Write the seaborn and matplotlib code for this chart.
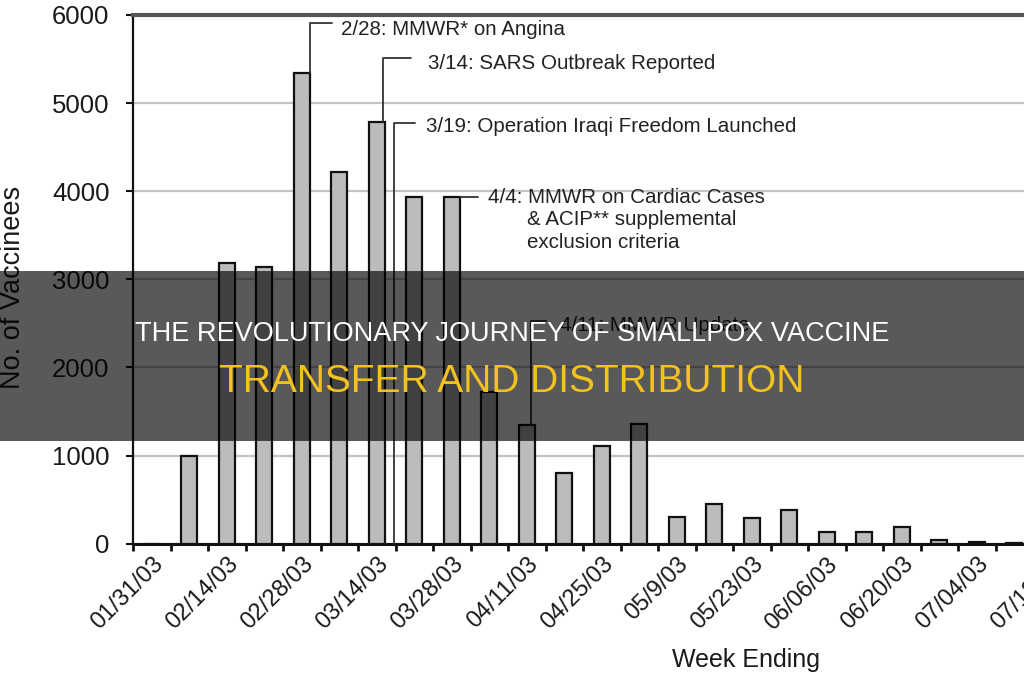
import matplotlib
matplotlib.use("Agg")
import matplotlib.pyplot as plt
import matplotlib.transforms as mtransforms
from matplotlib.patches import Rectangle
import pandas as pd
import seaborn as sns

# weekly smallpox vaccinees, week ending dates (2003)
weeks = ["01/31/03", "02/07/03", "02/14/03", "02/21/03", "02/28/03", "03/07/03",
         "03/14/03", "03/21/03", "03/28/03", "04/04/03", "04/11/03", "04/18/03",
         "04/25/03", "05/02/03", "05/09/03", "05/16/03", "05/23/03", "05/30/03",
         "06/06/03", "06/13/03", "06/20/03", "06/27/03", "07/04/03", "07/11/03"]
vaccinees = [0, 1000, 3180, 3140, 5340, 4215, 4780, 3930, 3935, 1720, 1345, 800,
             1105, 1360, 300, 450, 290, 380, 135, 135, 190, 40, 15, 10]

# printed tick labels (every second week)
tick_labels = ["01/31/03", "02/14/03", "02/28/03", "03/14/03", "03/28/03", "04/11/03",
               "04/25/03", "05/9/03", "05/23/03", "06/06/03", "06/20/03", "07/04/03",
               "07/18/03"]
y_ticks = [0, 1000, 2000, 3000, 4000, 5000, 6000]

# event annotations: (bar index the leader starts at, label)
events = [(4, "2/28: MMWR* on Angina"),
          (6, "3/14: SARS Outbreak Reported"),
          (7, "3/19: Operation Iraqi Freedom Launched"),
          (8, "4/4: MMWR on Cardiac Cases"),
          (10, "4/11: MMWR Update")]

df = pd.DataFrame({"week": weeks, "count": vaccinees})

sns.set_style("white")
plt.rcParams["font.family"] = ["Liberation Sans", "DejaVu Sans"]

fig = plt.figure(figsize=(10.24, 6.8), dpi=100)
ax = fig.add_axes([133 / 1024, 1 - 543.6 / 680, 937.5 / 1024, 528.6 / 680])

sns.barplot(data=df, x="week", y="count", order=weeks, color="#bcbcbc", saturation=1,
            edgecolor="#111111", linewidth=1.6, width=0.42, ax=ax, zorder=3)

ax.set_xlim(-0.5, 24.5)
ax.set_ylim(0, 6000)
ax.set_yticks(y_ticks)
ax.set_yticklabels([str(v) for v in y_ticks], fontsize=18.5, color="#1a1a1a")
ax.yaxis.grid(True, color="#c4c4c4", linewidth=1.6, zorder=0)
ax.set_axisbelow(True)

# labels every 2 weeks at bar centres, tick marks at week boundaries
ax.set_xticks(range(0, 25, 2))
ax.set_xticklabels(tick_labels, rotation=45, ha="right", va="top",
                   rotation_mode="anchor", fontsize=17, color="#1a1a1a")
off = mtransforms.ScaledTranslation(3 / 100, 0, fig.dpi_scale_trans)
for lab in ax.get_xticklabels():
    lab.set_transform(lab.get_transform() + off)
ax.set_xticks([i - 0.5 for i in range(26)], minor=True)
ax.tick_params(axis="x", which="major", bottom=True, length=0, pad=7)
ax.tick_params(axis="x", which="minor", bottom=True, length=5, width=2,
               color="#111111", direction="out")
ax.tick_params(axis="y", left=True, length=5, width=1.5, color="#111111",
               direction="out", pad=12)
ax.set_xlabel("")
ax.set_ylabel("")

ax.spines["right"].set_visible(False)
ax.spines["left"].set_color("#111111")
ax.spines["left"].set_linewidth(1.6)
ax.spines["bottom"].set_color("#111111")
ax.spines["bottom"].set_linewidth(2.2)
ax.spines["top"].set_color("#555555")
ax.spines["top"].set_linewidth(3)

# event leader lines + labels
lc = "#333333"
lw = 1.3
fs = 14.8
i, txt = events[0]
ax.plot([i + 0.23, i + 0.23, i + 0.8], [vaccinees[i], 5905, 5905], color=lc, lw=lw, zorder=4)
ax.text(i + 1.05, 5840, txt, fontsize=fs, va="center", color="#222222")
i, txt = events[1]
ax.plot([i + 0.17, i + 0.17, i + 0.9], [vaccinees[i], 5510, 5510], color=lc, lw=lw, zorder=4)
ax.text(i + 1.37, 5455, txt, fontsize=fs, va="center", color="#222222")
i, txt = events[2]
ax.plot([i - 0.53, i - 0.53, i + 0.03], [0, 4770, 4770], color=lc, lw=lw, zorder=4)
ax.text(i + 0.32, 4735, txt, fontsize=fs, va="center", color="#222222")
i, txt = events[3]
ax.plot([i + 0.23, i + 0.71], [vaccinees[i], vaccinees[i]], color=lc, lw=lw, zorder=4)
ax.text(i + 0.97, vaccinees[i] - 5, txt, fontsize=fs, va="center", color="#222222")
ax.text(i + 2.0, vaccinees[i] - 260, "& ACIP** supplemental", fontsize=fs, va="center", color="#222222")
ax.text(i + 2.0, vaccinees[i] - 515, "exclusion criteria", fontsize=fs, va="center", color="#222222")
i, txt = events[4]
ax.plot([i + 0.12, i + 0.12, i + 0.5], [vaccinees[i], 2530, 2530], color=lc, lw=lw, zorder=4)
ax.text(i + 0.9, 2480, txt, fontsize=fs, va="center", color="#222222")

fig.text(13 / 1024, 1 - 287 / 680, "No. of Vaccinees", rotation=90, fontsize=19.5,
         ha="center", va="center", color="#1a1a1a")
fig.text(746 / 1024, 1 - 660 / 680, "Week Ending", fontsize=18, ha="center", va="center",
         color="#1a1a1a")

# title banner overlay
fig.add_artist(Rectangle((0, 1 - 441 / 680), 1, 170 / 680, transform=fig.transFigure,
                         facecolor="black", alpha=0.65, edgecolor="none", zorder=10))
fig.text(0.5, 1 - 334 / 680, "THE REVOLUTIONARY JOURNEY OF SMALLPOX VACCINE",
         fontsize=19.5, color="white", ha="center", va="center", zorder=11)
fig.text(0.5, 1 - 382 / 680, "TRANSFER AND DISTRIBUTION", fontsize=28,
         color="#f4c21f", ha="center", va="center", zorder=11)

fig.savefig("out.png", dpi=100)
